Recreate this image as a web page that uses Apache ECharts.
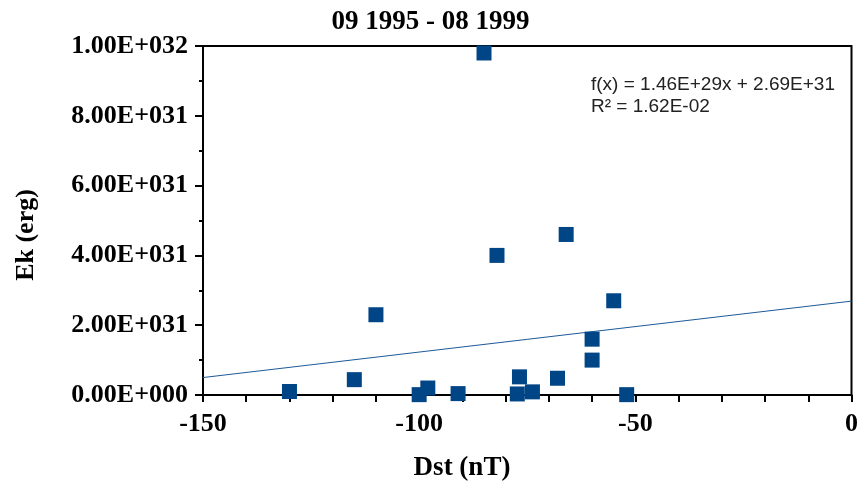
<!DOCTYPE html>
<html>
<head>
<meta charset="utf-8">
<script src="https://cdn.jsdelivr.net/npm/echarts@6/dist/echarts.min.js"></script>
<style>html,body{margin:0;padding:0;background:#fff;}#c{width:861px;height:490px;}</style>
</head>
<body>
<div id="c"></div>
<script>
// Data
const dstValues = [-130, -115, -110, -100, -98, -91, -85, -82, -77.3, -76.8, -73.8, -68, -66, -60, -60, -55, -52];
const ekValues  = [1.0e30, 4.4e30, 2.3e31, 0.1e30, 2.0e30, 0.4e30, 9.8e31, 4.0e31, 0.3e30, 5.2e30, 0.9e30, 4.8e30, 4.6e31, 1.6e31, 1.0e31, 2.7e31, 0.1e30];
const trendX = [-150, 0];
const trendY = [5.0e30, 2.69e31];
const titleText = '09 1995 - 08 1999';
const xName = 'Dst (nT)';
const yName = 'Ek (erg)';
const eqLines = ['f(x) = 1.46E+29x + 2.69E+31', 'R\u00B2 = 1.62E-02'];

const serif = 'Liberation Serif';
const sans = 'Liberation Sans';

function fmtY(v) {
  const s = Number(v).toExponential(2).toUpperCase();
  const m = s.match(/^(-?[\d.]+)E([+-])(\d+)$/);
  if (!m) return s;
  return m[1] + 'E' + m[2] + m[3].padStart(3, '0');
}

const chart = echarts.init(document.getElementById('c'), null, {renderer: 'canvas'});
chart.setOption({
  animation: false,
  backgroundColor: '#fff',
  title: {
    text: titleText, left: 'center', top: 4,
    textStyle: {fontFamily: serif, fontWeight: 'bold', fontSize: 27, color: '#000'}
  },
  grid: {left: 203, right: 7, top: 46, bottom: 95, show: true, borderColor: '#000', borderWidth: 2, containLabel: false},
  xAxis: {
    type: 'value', min: -150, max: 0, interval: 10,
    axisLine: {onZero: false, lineStyle: {color: '#000', width: 2}},
    axisTick: {length: 7, lineStyle: {color: '#000', width: 2}},
    splitLine: {show: false},
    axisLabel: {
      formatter: v => (Math.round(v) % 50 === 0 ? String(Math.round(v)) : ''),
      fontFamily: serif, fontWeight: 'bold', fontSize: 26, color: '#000', margin: 16
    }
  },
  yAxis: {
    type: 'value', min: 0, max: 1e32, interval: 2e31,
    axisLine: {show: true, onZero: false, lineStyle: {color: '#000', width: 2}},
    axisTick: {show: true, length: 8, lineStyle: {color: '#000', width: 2}},
    minorTick: {show: true, splitNumber: 2, length: 4, lineStyle: {color: '#000', width: 2}},
    splitLine: {show: false},
    axisLabel: {formatter: fmtY, fontFamily: serif, fontWeight: 'bold', fontSize: 26, color: '#000', margin: 15}
  },
  graphic: [
    {type: 'text', x: 462, y: 468, style: {text: xName, font: 'bold 27px "' + serif + '"', fill: '#000', align: 'center', verticalAlign: 'middle'}},
    {type: 'text', x: 26, y: 235, rotation: Math.PI / 2, style: {text: yName, font: 'bold 26px "' + serif + '"', fill: '#000', align: 'center', verticalAlign: 'middle'}},
    {type: 'text', left: 591, top: 74, style: {text: eqLines.join('\n'), font: '19px "' + sans + '"', fill: '#222', lineHeight: 22}}
  ],
  series: [
    {
      type: 'line', data: trendX.map((x, i) => [x, trendY[i]]),
      symbol: 'none', lineStyle: {color: '#1c5a9a', width: 1}, silent: true, z: 2
    },
    {
      type: 'scatter', data: dstValues.map((x, i) => [x, ekValues[i]]),
      symbol: 'rect', symbolSize: 15, itemStyle: {color: '#004586', opacity: 1}, z: 3
    }
  ]
});
</script>
</body>
</html>
